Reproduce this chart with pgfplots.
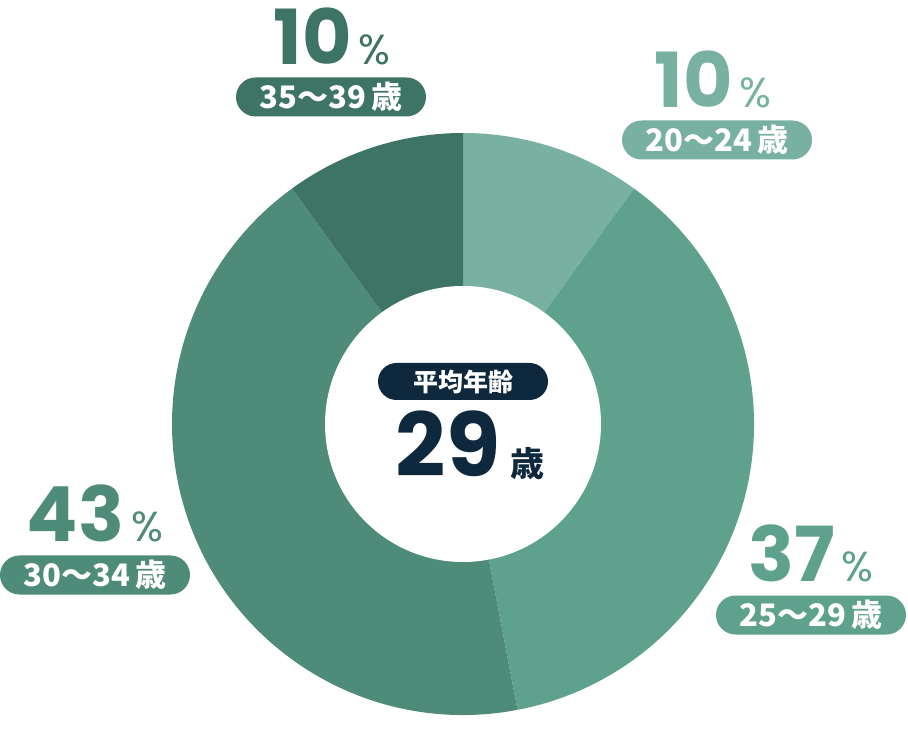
\documentclass[border=0pt]{standalone}
\usepackage{pgfplots}
\pgfplotsset{compat=1.18}
\usepackage{pgfplotstable}
\usepackage{fontspec}
\setmainfont{Poppins}
\newfontfamily\cjk{Noto Sans CJK JP}

\definecolor{c1}{HTML}{78B1A1}
\definecolor{c2}{HTML}{5EA28D}
\definecolor{c3}{HTML}{4E8B79}
\definecolor{c4}{HTML}{3D7465}
\definecolor{navy}{HTML}{0E283E}

% share of each age group, in %
\pgfplotstableread{
share lo hi
10 20 24
37 25 29
43 30 34
10 35 39
}\agedata

% wedge from angle #1 to #2 (clockwise), colour #3
\newcommand\piewedge[3]{%
  \fill[#3] (axis cs:463,292) -- ++(#1:145.5pt)
    arc[start angle=#1, end angle=#2, radius=145.5pt] -- cycle;}
% number with small % sign
\newcommand\pct[1]{{\fontsize{38}{38}\selectfont\bfseries #1}{\fontsize{21}{21}\selectfont\,\%}}
% rounded tag
\tikzset{tag/.style={fill=#1, text=white, rounded corners=9.75pt,
  minimum width=95pt, minimum height=19.5pt, inner sep=0pt,
  font=\cjk\fontsize{15.5}{15.5}\selectfont\bfseries}}

\begin{document}%
\begin{tikzpicture}
\pgfplotstablegetelem{0}{share}\of\agedata \let\sA\pgfplotsretval
\pgfplotstablegetelem{1}{share}\of\agedata \let\sB\pgfplotsretval
\pgfplotstablegetelem{2}{share}\of\agedata \let\sC\pgfplotsretval
\pgfplotstablegetelem{3}{share}\of\agedata \let\sD\pgfplotsretval
\pgfmathsetmacro{\angA}{90}
\pgfmathsetmacro{\angB}{\angA-3.6*\sA}
\pgfmathsetmacro{\angC}{\angB-3.6*\sB}
\pgfmathsetmacro{\angD}{\angC-3.6*\sC}
\pgfmathsetmacro{\angE}{\angD-3.6*\sD}
\begin{axis}[
  x=0.5pt, y=0.5pt,
  xmin=0, xmax=908, ymin=0, ymax=716,
  hide axis, clip=false,
]
\path (axis cs:0,0) rectangle (axis cs:908,716);

\piewedge{\angA}{\angB}{c1}
\piewedge{\angB}{\angC}{c2}
\piewedge{\angC}{\angD}{c3}
\piewedge{\angD}{\angE}{c4}
\fill[white] (axis cs:463,292) circle[radius=69pt];

% centre
\node[fill=navy, text=white, rounded corners=9.25pt, minimum width=85pt,
  minimum height=18.5pt, inner sep=0pt,
  font=\cjk\fontsize{12.5}{12.5}\selectfont\bfseries] at (axis cs:463,334.5) {平均年齢};
\node[anchor=base, text=navy, inner sep=0pt] at (axis cs:470,239)
  {{\fontsize{44}{44}\selectfont\bfseries 29}\hspace{5pt}{\cjk\fontsize{17}{17}\selectfont\bfseries 歳}};

% 20-24
\node[anchor=base, text=c1, inner sep=0pt] at (axis cs:713,608) {\pct{\sA}};
\node[tag=c1] at (axis cs:717,576) {20〜24\,歳};
% 25-29
\node[anchor=base, text=c2, inner sep=0pt] at (axis cs:811,134) {\pct{\sB}};
\node[tag=c2] at (axis cs:811,101) {25〜29\,歳};
% 30-34
\node[anchor=base, text=c3, inner sep=0pt] at (axis cs:95,174) {\pct{\sC}};
\node[tag=c3] at (axis cs:95,141) {30〜34\,歳};
% 35-39
\node[anchor=base, text=c4, inner sep=0pt] at (axis cs:332,651) {\pct{\sD}};
\node[tag=c4] at (axis cs:331,619) {35〜39\,歳};
\end{axis}
\end{tikzpicture}%
\end{document}
